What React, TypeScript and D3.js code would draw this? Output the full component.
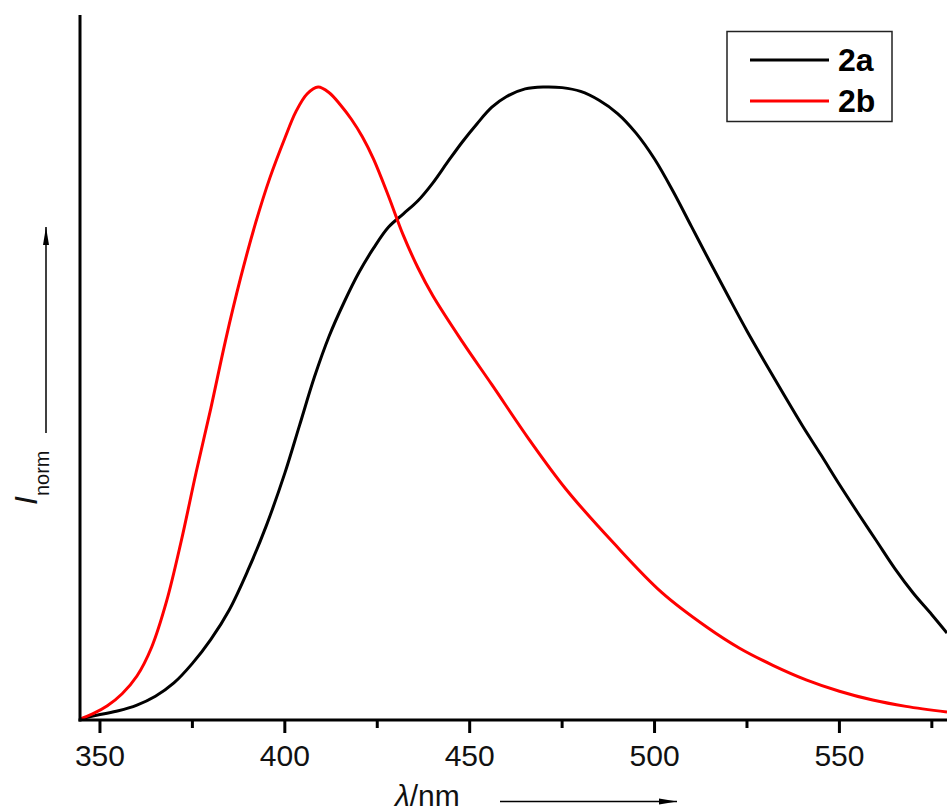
import React from "react";
import * as d3 from "d3";

const wl2a = [344.6, 350, 355, 360, 365, 370, 375, 380, 385, 390, 395, 400, 404, 408, 412, 416, 420, 424, 428, 432, 436, 440, 444, 448, 452, 456, 460, 465, 470, 475, 480, 485, 490, 495, 500, 505, 510, 515, 520, 525, 530, 535, 540, 545, 550, 555, 560, 565, 570, 575, 579.1];
const int2a = [0.0, 0.007, 0.013, 0.022, 0.036, 0.057, 0.088, 0.126, 0.173, 0.235, 0.306, 0.389, 0.465, 0.541, 0.606, 0.659, 0.706, 0.745, 0.778, 0.799, 0.820, 0.848, 0.881, 0.913, 0.942, 0.968, 0.985, 0.997, 1.0, 0.999, 0.993, 0.979, 0.958, 0.927, 0.886, 0.835, 0.779, 0.723, 0.668, 0.614, 0.563, 0.513, 0.464, 0.418, 0.371, 0.326, 0.282, 0.238, 0.199, 0.165, 0.136];

const wl2b = [344.6, 348, 352, 356, 360, 364, 368, 372, 376, 380, 384, 388, 392, 396, 400, 403, 406, 409, 412, 415, 418, 421, 424, 428, 432, 436, 440, 448, 456, 466, 476, 489, 502, 514, 523, 532, 541, 550, 559, 568, 579.1];
const int2b = [0.0, 0.008, 0.021, 0.040, 0.068, 0.114, 0.186, 0.282, 0.390, 0.492, 0.600, 0.697, 0.783, 0.857, 0.919, 0.961, 0.989, 1.0, 0.991, 0.972, 0.949, 0.921, 0.886, 0.828, 0.766, 0.714, 0.670, 0.597, 0.529, 0.443, 0.364, 0.278, 0.200, 0.146, 0.112, 0.085, 0.062, 0.044, 0.030, 0.020, 0.011];

const majorTicks = [350, 400, 450, 500, 550];
const minorTicks = [375, 425, 475, 525, 575];
const seriesNames = ["2a", "2b"];
const seriesColors = ["#000000", "#ff0000"];

export default function App() {
  const W = 947, H = 812;
  const x = d3.scaleLinear().domain([344.6, 579.1]).range([80, 947]);
  const y = d3.scaleLinear().domain([0, 1]).range([719, 87]);
  const line = d3
    .line<[number, number]>()
    .x((d) => x(d[0]))
    .y((d) => y(d[1]))
    .curve(d3.curveCatmullRom.alpha(0.5));
  const dA = line(wl2a.map((w, i) => [w, int2a[i]] as [number, number])) || "";
  const dB = line(wl2b.map((w, i) => [w, int2b[i]] as [number, number])) || "";
  const font = "'Liberation Sans', Arial, sans-serif";

  return (
    <svg
      width={W}
      height={H}
      style={{ position: "absolute", left: 0, top: 0, background: "#fff" }}
      fontFamily={font}
    >
      <defs>
        <clipPath id="plot">
          <rect x={80} y={0} width={W - 80} height={721} />
        </clipPath>
        <marker id="arr" viewBox="0 0 18 7" refX="18" refY="3.5" markerWidth="18" markerHeight="7" markerUnits="userSpaceOnUse" orient="auto">
          <path d="M0,0.5 L18,3.5 L0,6.5 Z" fill="#000" />
        </marker>
      </defs>
      <rect x={0} y={0} width={W} height={H} fill="#fff" />
      <g clipPath="url(#plot)">
        <path d={dA} fill="none" stroke={seriesColors[0]} strokeWidth={3} strokeLinejoin="round" />
        <path d={dB} fill="none" stroke={seriesColors[1]} strokeWidth={3} strokeLinejoin="round" />
      </g>
      {/* axes */}
      <line x1={80} y1={15} x2={80} y2={721.5} stroke="#000" strokeWidth={3} />
      <line x1={78.5} y1={720} x2={W} y2={720} stroke="#000" strokeWidth={3} />
      {majorTicks.map((t) => (
        <g key={"M" + t}>
          <line x1={x(t)} y1={720} x2={x(t)} y2={733} stroke="#000" strokeWidth={3} />
          <text x={x(t)} y={766} fontSize={30} textAnchor="middle" fill="#111">
            {t}
          </text>
        </g>
      ))}
      {minorTicks.map((t) => (
        <line key={"m" + t} x1={x(t)} y1={720} x2={x(t)} y2={728} stroke="#000" strokeWidth={3} />
      ))}
      {/* x title */}
      <text x={395} y={806} fontSize={30} fill="#111">
        <tspan fontStyle="italic">λ</tspan>
        <tspan>/nm</tspan>
      </text>
      <line x1={500} y1={801.5} x2={677} y2={801.5} stroke="#000" strokeWidth={1.5} markerEnd="url(#arr)" />
      {/* y title */}
      <text transform="translate(37,505) rotate(-90)" fontSize={32} fill="#111">
        <tspan fontStyle="italic">I</tspan>
        <tspan fontSize={20} dy={12}>norm</tspan>
      </text>
      <line x1={46} y1={433} x2={46} y2={227} stroke="#000" strokeWidth={1.5} markerEnd="url(#arr)" />
      {/* legend */}
      <rect x={727} y={31.5} width={165} height={90} fill="#fff" stroke="#222" strokeWidth={1.5} />
      {seriesNames.map((n, i) => (
        <g key={n}>
          <line x1={750} x2={829} y1={60 + i * 41} y2={60 + i * 41} stroke={seriesColors[i]} strokeWidth={3} />
          <text x={838} y={71 + i * 41} fontSize={32} fontWeight="bold" fill="#000">
            {n}
          </text>
        </g>
      ))}
    </svg>
  );
}
